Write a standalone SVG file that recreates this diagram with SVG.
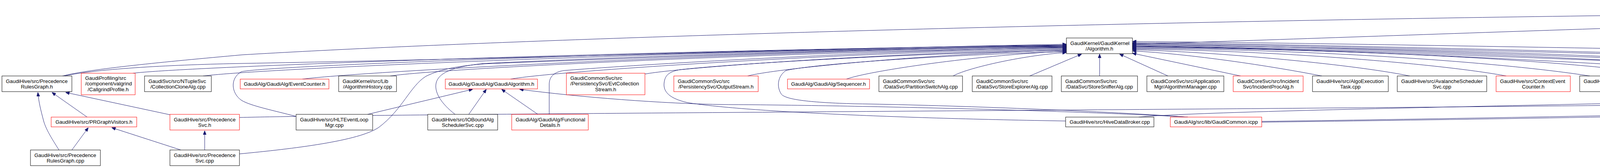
<svg xmlns="http://www.w3.org/2000/svg" width="7404" height="429" viewBox="0 0 7404 429">
<defs>
<marker id="ah" viewBox="0 0 10 8" refX="10" refY="4" markerWidth="10" markerHeight="8" markerUnits="userSpaceOnUse" orient="auto"><path d="M0,0 L10,4 L0,8 z" fill="#191970" stroke="#191970" stroke-width="1"/></marker>
<style>
.b{fill:#fff;stroke:#000;stroke-width:1}
.r{fill:#fff;stroke:#ff0000;stroke-width:1}
.g{fill:#bfbfbf;stroke:#000;stroke-width:1}
text{font-family:"Liberation Sans",Arial,Helvetica,sans-serif;font-size:13.3px;fill:#000}
.m{text-anchor:middle}
#edges path{fill:none;stroke:#191970;stroke-width:1;marker-end:url(#ah)}
</style>
</defs>
<rect width="7404" height="429" fill="#fff"/>
<g id="edges">
<path d="M160,194 C230,176 420,158 620,140 C1500,88 3500,35 5505,28"/>
<path d="M2899,113 C3500,95 4500,55 5505,33"/>
<path d="M5381,97 L5527,47"/>
<path d="M5589.5,97 L5589.5,47"/>
<path d="M6030,97 L5674,44"/>
<path d="M6225,97 C6200,94 6180,92 6160,90 L5674,38"/>
<path d="M7231,194 C7000,155 6500,90 5674,33"/>
<path d="M165,194 C250,175 450,165 620,162 C1400,148 2300,120 2730,113"/>
<path d="M340,187 C500,168 1800,125 2730,116"/>
<path d="M520,194 C700,172 1900,125 2730,118"/>
<path d="M774,202 C950,180 2000,128 2730,120"/>
<path d="M999,194 C1150,172 2100,130 2730,122"/>
<path d="M1307,202 C1430,180 2200,132 2730,124"/>
<path d="M1651,189 C1760,170 2300,134 2730,126"/>
<path d="M1914,194 C1990,174 2400,136 2730,128"/>
<path d="M2167,202 C2220,182 2500,140 2730,131"/>
<path d="M2440,194 C2470,176 2610,142 2730,134"/>
<path d="M2636,194 L2769,138"/>
<path d="M2815,194 L2815,138"/>
<path d="M2990,194 L2866,138"/>
<path d="M757,297 C700,282 640,270 618,256 C592,238 588,200 618,183 C700,165 2000,122 2730,115"/>
<path d="M1165,292 C1130,265 1110,235 1117,210 C1125,185 1160,170 1240,162 C1700,140 2400,120 2730,119"/>
<path d="M1406,292 L1406,215 C1406,195 1420,183 1445,180 C1700,160 2300,128 2730,121"/>
<path d="M613,393 C750,380 920,360 970,325 C1030,280 1050,220 1090,195 C1130,175 1180,168 1240,163 C1700,145 2400,120 2730,117"/>
<path d="M2728,309 C2300,302 1900,285 1760,262 C1715,252 1698,235 1700,213 C1702,190 1715,183 1740,178 C1900,160 2400,134 2730,129"/>
<path d="M3041,299 C2800,282 2400,268 2187,265 C2080,262 2010,255 2000,240 C1988,222 1990,195 2012,180 C2100,160 2500,137 2730,132"/>
<path d="M3176,194 L2899,136"/>
<path d="M3384,194 C3250,168 3050,138 2899,130"/>
<path d="M3609,194 C3450,162 3100,132 2899,127"/>
<path d="M3856,194 C3700,165 3300,130 2899,125"/>
<path d="M4070,194 C3850,160 3400,127 2899,123"/>
<path d="M4271,194 C4050,156 3500,126 2899,121"/>
<path d="M4463,292 L4463,225 C4463,200 4445,188 4410,182 C4000,155 3400,124 2899,119"/>
<path d="M4570,194 C4450,160 3600,125 2899,117"/>
<path d="M4774,194 C4600,155 3700,122 2899,115"/>
<path d="M5204,308 C5000,302 4700,282 4620,264 C4540,246 4505,215 4475,195 C4440,172 4370,165 4300,162 C3800,143 3300,122 2899,118"/>
<path d="M5011,202 C4970,190 4900,180 4800,175 C4200,150 3400,118 2899,113"/>
<path d="M5229,194 C5150,170 4900,158 4700,152 C4000,135 3300,114 2899,111"/>
<path d="M5414,194 C5300,165 4900,155 4700,150 C4000,130 3300,112 2899,109"/>
<path d="M7231,194 C7100,165 6900,150 6784,148 L6170,152 L5553,147 C4800,138 3500,110 2899,106"/>
<path d="M941,292 L1210,228"/>
<path d="M1200,292 L1245,228"/>
<path d="M1377,292 L1284,228"/>
<path d="M3041,299 C2700,280 2100,268 1854,267 C1700,265 1480,248 1330,228"/>
<path d="M4708,194 C4800,168 5050,128 5239,121"/>
<path d="M4880,194 C4940,172 5080,134 5239,127"/>
<path d="M613,300 C1000,290 3000,282 4319,267 C4700,262 4880,250 4910,235 C4930,220 4935,200 4960,185 C5050,150 5150,137 5239,132"/>
<path d="M5104,202 L5268,138"/>
<path d="M5296,194 L5316,138"/>
<path d="M5436,194 L5357,138"/>
<path d="M5575,194 L5395,138"/>
<path d="M5747,194 C5700,172 5560,145 5408,132"/>
<path d="M5956,194 C5850,165 5600,140 5408,128"/>
<path d="M5492,194 L5556,138"/>
<path d="M5618,194 L5598,138"/>
<path d="M5349,194 C5400,178 5500,165 5556,160 C5700,148 5900,128 6014,122"/>
<path d="M5517,194 C5540,188 5560,185 5580,182 C5750,160 5900,135 6014,128"/>
<path d="M5680,194 C5780,172 5900,145 6014,133"/>
<path d="M5869,194 L6040,138"/>
<path d="M6043,194 L6083,138"/>
<path d="M4530,307 C5000,295 5800,268 6100,250 C6135,245 6155,230 6152,210 C6150,185 6140,165 6125,138"/>
<path d="M6283,202 C6240,180 6190,160 6150,138"/>
<path d="M3230,310 C4000,300 5500,268 6100,252 C6170,248 6220,240 6265,228"/>
<path d="M3230,312 C4200,300 5600,270 6170,260 C6300,257 6420,254 6432,240 C6445,225 6445,200 6430,185 C6380,170 6250,152 6188,138"/>
<path d="M6506,194 C6450,180 6300,155 6183,136"/>
<path d="M6729,190 C6600,170 6350,150 6183,135"/>
<path d="M5371,310 C5800,305 6500,285 6790,270 C6900,262 6935,250 6945,232 C6955,212 6945,190 6920,180 C6800,160 6400,142 6183,134"/>
<path d="M7021,194 C6950,180 6600,155 6183,133"/>
<path d="M223,299 L133,236"/>
<path d="M151,383 C130,350 118,330 112,310 C104,280 99,260 97,236"/>
<path d="M184,383 L226,326"/>
<path d="M463,383 L286,326"/>
<path d="M524,383 L524,334"/>
<path d="M435,293 L168,236"/>
<path d="M4434,292 L4368,236"/>
<path d="M5288,292 L5288,236"/>
<path d="M7300,292 L7300,236"/>
<path d="M2915,299 C3100,280 4500,260 4936,245 C4980,238 5005,233 5019,229"/>
</g>
<g id="n_CommonMessaging"><rect class="g" x="5505" y="7" width="169" height="40"/><text x="5515" y="25">GaudiKernel/GaudiKernel</text><text class="m" x="5589.5" y="39">/CommonMessaging.h</text></g>
<g id="n_Algorithm_h"><rect class="b" x="2730" y="97" width="169" height="40"/><text x="2740" y="115">GaudiKernel/GaudiKernel</text><text class="m" x="2814.5" y="129">/Algorithm.h</text></g>
<g id="n_Service_h"><rect class="r" x="5239" y="97" width="169" height="40"/><text x="5249" y="115">GaudiKernel/GaudiKernel</text><text class="m" x="5323.5" y="129">/Service.h</text></g>
<g id="n_Auditor_h"><rect class="r" x="5505" y="97" width="169" height="40"/><text x="5515" y="115">GaudiKernel/GaudiKernel</text><text class="m" x="5589.5" y="129">/Auditor.h</text></g>
<g id="n_AlgTool_h"><rect class="r" x="6014" y="97" width="169" height="40"/><text x="6024" y="115">GaudiKernel/GaudiKernel</text><text class="m" x="6098.5" y="129">/AlgTool.h</text></g>
<g id="n_ComponentManager_h"><rect class="r" x="6206" y="97" width="169" height="40"/><text x="6216" y="115">GaudiKernel/GaudiKernel</text><text class="m" x="6290.5" y="129">/ComponentManager.h</text></g>
<g id="n_RulesGraph_h"><rect class="b" x="5" y="194" width="179" height="40"/><text x="15" y="212">GaudiHive/src/Precedence</text><text class="m" x="94.5" y="226">RulesGraph.h</text></g>
<g id="n_CallgrindProfile"><rect class="r" x="208" y="187" width="138" height="55"/><text x="218" y="204">GaudiProfiling/src</text><text x="218" y="218">/component/valgrind</text><text class="m" x="277" y="233">/CallgrindProfile.h</text></g>
<g id="n_CollectionCloneAlg"><rect class="b" x="370" y="194" width="171" height="40"/><text x="380" y="212">GaudiSvc/src/NTupleSvc</text><text class="m" x="455.5" y="226">/CollectionCloneAlg.cpp</text></g>
<g id="n_EventCounter"><rect class="r" x="615" y="202" width="227" height="25"/><text class="m" x="728.5" y="219">GaudiAlg/GaudiAlg/EventCounter.h</text></g>
<g id="n_AlgorithmHistory"><rect class="b" x="867" y="194" width="148" height="40"/><text x="877" y="212">GaudiKernel/src/Lib</text><text class="m" x="941" y="226">/AlgorithmHistory.cpp</text></g>
<g id="n_GaudiAlgorithm"><rect class="r" x="1140" y="202" width="236" height="25"/><text class="m" x="1258" y="219">GaudiAlg/GaudiAlg/GaudiAlgorithm.h</text></g>
<g id="n_EvtCollectionStream"><rect class="r" x="1450" y="187" width="201" height="55"/><text x="1460" y="204">GaudiCommonSvc/src</text><text x="1460" y="218">/PersistencySvc/EvtCollection</text><text class="m" x="1550.5" y="233">Stream.h</text></g>
<g id="n_OutputStream"><rect class="r" x="1725" y="194" width="216" height="40"/><text x="1735" y="212">GaudiCommonSvc/src</text><text class="m" x="1833" y="226">/PersistencySvc/OutputStream.h</text></g>
<g id="n_Sequencer"><rect class="r" x="2016" y="202" width="210" height="25"/><text class="m" x="2121" y="219">GaudiAlg/GaudiAlg/Sequencer.h</text></g>
<g id="n_PartitionSwitchAlg"><rect class="b" x="2250" y="194" width="214" height="40"/><text x="2260" y="212">GaudiCommonSvc/src</text><text class="m" x="2357" y="226">/DataSvc/PartitionSwitchAlg.cpp</text></g>
<g id="n_StoreExplorerAlg"><rect class="b" x="2489" y="194" width="204" height="40"/><text x="2499" y="212">GaudiCommonSvc/src</text><text class="m" x="2591" y="226">/DataSvc/StoreExplorerAlg.cpp</text></g>
<g id="n_StoreSnifferAlg"><rect class="b" x="2717" y="194" width="195" height="40"/><text x="2727" y="212">GaudiCommonSvc/src</text><text class="m" x="2814.5" y="226">/DataSvc/StoreSnifferAlg.cpp</text></g>
<g id="n_AlgorithmManager"><rect class="b" x="2936" y="194" width="197" height="40"/><text x="2946" y="212">GaudiCoreSvc/src/Application</text><text class="m" x="3034.5" y="226">Mgr/AlgorithmManager.cpp</text></g>
<g id="n_IncidentProcAlg"><rect class="r" x="3157" y="194" width="179" height="40"/><text x="3167" y="212">GaudiCoreSvc/src/Incident</text><text class="m" x="3246.5" y="226">Svc/IncidentProcAlg.h</text></g>
<g id="n_AlgoExecutionTask"><rect class="b" x="3360" y="194" width="194" height="40"/><text x="3370" y="212">GaudiHive/src/AlgoExecution</text><text class="m" x="3457" y="226">Task.cpp</text></g>
<g id="n_AvalancheSchedulerSvc"><rect class="b" x="3577" y="194" width="229" height="40"/><text x="3587" y="212">GaudiHive/src/AvalancheScheduler</text><text class="m" x="3691.5" y="226">Svc.cpp</text></g>
<g id="n_ContextEventCounter"><rect class="r" x="3830" y="194" width="190" height="40"/><text x="3840" y="212">GaudiHive/src/ContextEvent</text><text class="m" x="3925" y="226">Counter.h</text></g>
<g id="n_IOBoundAlgTask"><rect class="b" x="4044" y="194" width="179" height="40"/><text x="4054" y="212">GaudiHive/src/IOBoundAlg</text><text class="m" x="4133.5" y="226">Task.cpp</text></g>
<g id="n_GaudiPythonAlgorithm_h"><rect class="b" x="4246" y="194" width="177" height="40"/><text x="4256" y="212">GaudiPython/GaudiPython</text><text class="m" x="4334.5" y="226">/Algorithm.h</text></g>
<g id="n_AlgResourcePool"><rect class="r" x="4548" y="194" width="184" height="40"/><text x="4558" y="212">GaudiHive/src/AlgResource</text><text class="m" x="4640" y="226">Pool.h</text></g>
<g id="n_Bootstrap"><rect class="b" x="4756" y="194" width="136" height="40"/><text x="4766" y="212">GaudiKernel/src/Lib</text><text class="m" x="4824" y="226">/Bootstrap.cpp</text></g>
<g id="n_HiveDataBroker_h"><rect class="b" x="4966" y="202" width="214" height="25"/><text class="m" x="5073" y="219">GaudiHive/src/HiveDataBroker.h</text></g>
<g id="n_HistorySvc_h"><rect class="b" x="5204" y="194" width="167" height="40"/><text x="5214" y="212">GaudiMonitor/src/History</text><text class="m" x="5287.5" y="226">Svc.h</text></g>
<g id="n_genconf"><rect class="b" x="5396" y="194" width="139" height="40"/><text x="5406" y="212">GaudiKernel/src/Util</text><text class="m" x="5465.5" y="226">/genconf.cpp</text></g>
<g id="n_AlgTool_cpp"><rect class="b" x="5559" y="194" width="136" height="40"/><text x="5569" y="212">GaudiKernel/src/Lib</text><text class="m" x="5627" y="226">/AlgTool.cpp</text></g>
<g id="n_DataObjectHandleBase"><rect class="b" x="5719" y="194" width="188" height="40"/><text x="5729" y="212">GaudiKernel/src/Lib</text><text class="m" x="5813" y="226">/DataObjectHandleBase.cpp</text></g>
<g id="n_ToolSvc"><rect class="b" x="5932" y="194" width="197" height="40"/><text x="5942" y="212">GaudiCoreSvc/src/Application</text><text class="m" x="6030.5" y="226">Mgr/ToolSvc.cpp</text></g>
<g id="n_GaudiTool"><rect class="r" x="6205" y="202" width="206" height="25"/><text class="m" x="6308" y="219">GaudiAlg/GaudiAlg/GaudiTool.h</text></g>
<g id="n_PartitionSwitchTool"><rect class="b" x="6486" y="194" width="219" height="40"/><text x="6496" y="212">GaudiCommonSvc/src</text><text class="m" x="6595.5" y="226">/DataSvc/PartitionSwitchTool.cpp</text></g>
<g id="n_DataSvcFileEntriesTool"><rect class="b" x="6729" y="187" width="195" height="55"/><text x="6739" y="204">GaudiCommonSvc/src</text><text x="6739" y="218">/PersistencySvc/DataSvcFile</text><text class="m" x="6826.5" y="233">EntriesTool.cpp</text></g>
<g id="n_DODBasicMapper"><rect class="r" x="6998" y="194" width="179" height="40"/><text x="7008" y="212">GaudiCoreSvc/src/Incident</text><text class="m" x="7087.5" y="226">Svc/DODBasicMapper.h</text></g>
<g id="n_ApplicationMgr_h"><rect class="b" x="7201" y="194" width="198" height="40"/><text x="7211" y="212">GaudiCoreSvc/src/Application</text><text class="m" x="7300" y="226">Mgr/ApplicationMgr.h</text></g>
<g id="n_PRGraphVisitors"><rect class="r" x="131" y="299" width="219" height="25"/><text class="m" x="240.5" y="316">GaudiHive/src/PRGraphVisitors.h</text></g>
<g id="n_PrecedenceSvc_h"><rect class="r" x="435" y="292" width="178" height="40"/><text x="445" y="310">GaudiHive/src/Precedence</text><text class="m" x="524" y="324">Svc.h</text></g>
<g id="n_HLTEventLoopMgr"><rect class="b" x="758" y="292" width="196" height="40"/><text x="768" y="310">GaudiHive/src/HLTEventLoop</text><text class="m" x="856" y="324">Mgr.cpp</text></g>
<g id="n_IOBoundAlgSchedulerSvc"><rect class="b" x="1095" y="292" width="179" height="40"/><text x="1105" y="310">GaudiHive/src/IOBoundAlg</text><text class="m" x="1184.5" y="324">SchedulerSvc.cpp</text></g>
<g id="n_FunctionalDetails"><rect class="r" x="1310" y="292" width="196" height="40"/><text x="1320" y="310">GaudiAlg/GaudiAlg/Functional</text><text class="m" x="1408" y="324">Details.h</text></g>
<g id="n_HiveDataBroker_cpp"><rect class="b" x="2728" y="299" width="226" height="25"/><text class="m" x="2841" y="316">GaudiHive/src/HiveDataBroker.cpp</text></g>
<g id="n_GaudiCommon_icpp"><rect class="r" x="2996" y="299" width="234" height="25"/><text class="m" x="3113" y="316">GaudiAlg/src/lib/GaudiCommon.icpp</text></g>
<g id="n_GaudiPythonAlgorithm_cpp"><rect class="b" x="4389" y="292" width="141" height="40"/><text x="4399" y="310">GaudiPython/src/Lib</text><text class="m" x="4459.5" y="324">/Algorithm.cpp</text></g>
<g id="n_HistorySvc_cpp"><rect class="b" x="5204" y="292" width="167" height="40"/><text x="5214" y="310">GaudiMonitor/src/History</text><text class="m" x="5287.5" y="324">Svc.cpp</text></g>
<g id="n_ApplicationMgr_cpp"><rect class="b" x="7201" y="292" width="198" height="40"/><text x="7211" y="310">GaudiCoreSvc/src/Application</text><text class="m" x="7300" y="324">Mgr/ApplicationMgr.cpp</text></g>
<g id="n_RulesGraph_cpp"><rect class="b" x="78" y="383" width="179" height="40"/><text x="88" y="401">GaudiHive/src/Precedence</text><text class="m" x="167.5" y="415">RulesGraph.cpp</text></g>
<g id="n_PrecedenceSvc_cpp"><rect class="b" x="435" y="383" width="178" height="40"/><text x="445" y="401">GaudiHive/src/Precedence</text><text class="m" x="524" y="415">Svc.cpp</text></g>
</svg>
